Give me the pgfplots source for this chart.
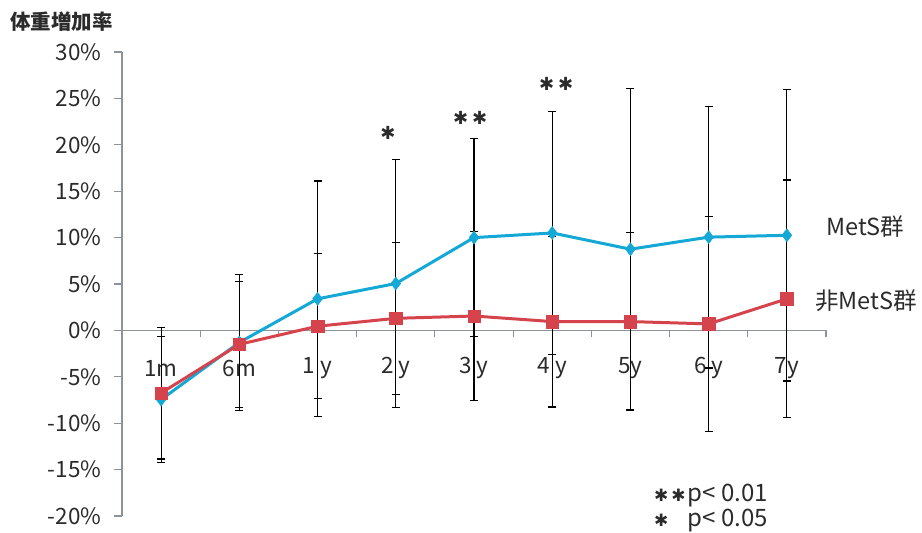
\documentclass[border=0pt]{standalone}
\usepackage{fontspec}
\setmainfont{Noto Sans CJK JP}
\newfontfamily\symfont{DejaVu Sans}
\usepackage{pgfplots}
\usepackage{pgfplotstable}
\pgfplotsset{compat=1.18}
\definecolor{metsblue}{HTML}{13A8D5}
\definecolor{nonred}{HTML}{D5444C}
\definecolor{axgray}{HTML}{8E9399}
\definecolor{txt}{HTML}{2B2B2B}
\pgfplotstableread{
x y e
0 -7.45 6.75
1 -1.3 7.3
2 3.4 12.7
3 5.05 13.4
4 10.0 10.7
5 10.5 13.1
6 8.75 17.3
7 10.05 14.1
8 10.25 15.7
}\mets
\pgfplotstableread{
x y e
0 -6.75 7.1
1 -1.5 6.8
2 0.45 7.8
3 1.3 8.2
4 1.55 9.1
5 0.95 9.2
6 0.95 9.6
7 0.7 11.6
8 3.4 12.8
}\nonmets
\newcommand\sigast{{\symfont ✱}}
\begin{document}
\begin{tikzpicture}
\useasboundingbox (0,0) rectangle (922pt,533pt);
\node[anchor=west, inner sep=0, font=\fontsize{20.5}{22}\selectfont\bfseries, txt] at (10pt,511pt) {体重増加率};
\begin{axis}[
  at={(122pt,17pt)}, anchor=south west,
  width=704pt, height=464pt, scale only axis,
  xmin=-0.5, xmax=8.5, ymin=-20, ymax=30,
  clip=false,
  axis x line=middle, axis y line=left,
  x axis line style={-, axgray, line width=1.5pt},
  y axis line style={-, axgray, line width=1.5pt},
  hide obscured x ticks=false, hide obscured y ticks=false,
  xtick={0,...,8},
  xticklabels={1m,6m,1 y,2 y,3 y,4 y,5y,6 y,7y},
  major x tick style={draw=none},
  minor xtick={0.5,1.5,...,8.5},
  minor x tick style={axgray, line width=1.2pt},
  minor tick length=7pt,
  tick align=outside,
  ytick={-20,-15,...,30},
  y tick style={axgray, line width=1.2pt},
  major tick length=8pt,
  yticklabel={\pgfmathprintnumber{\tick}\%},
  /pgf/number format/assume math mode=true,
  ticklabel style={font=\fontsize{22.5}{24}\selectfont, txt},
  yticklabel style={xshift=-9pt},
  xticklabel style={anchor=center, yshift=-30pt},
]
\addplot[black, only marks, mark=*, mark size=0pt, forget plot,
  error bars/.cd, y dir=both, y explicit, error mark=|,
  error bar style={black, solid, line width=1.2pt},
  error mark options={black, solid, line width=1.2pt, mark size=4pt}]
  table[x=x, y=y, y error=e]{\mets};
\addplot[black, only marks, mark=*, mark size=0pt, forget plot,
  error bars/.cd, y dir=both, y explicit, error mark=|,
  error bar style={black, solid, line width=1.2pt},
  error mark options={black, solid, line width=1.2pt, mark size=4pt}]
  table[x=x, y=y, y error=e]{\nonmets};
\addplot[metsblue, line width=3pt, mark=diamond*, mark size=6.5pt,
  mark options={solid, fill=metsblue, draw=metsblue, line width=0.5pt}]
  table[x=x, y=y]{\mets};
\addplot[nonred, line width=3pt, mark=square*, mark size=6.2pt,
  mark options={solid, fill=nonred, draw=nonred, line width=0.5pt}]
  table[x=x, y=y]{\nonmets};
\node[font=\fontsize{18}{20}\selectfont, txt] at (axis cs:2.9,21.3) {\sigast};
\node[font=\fontsize{18}{20}\selectfont, txt] at (axis cs:3.95,22.9) {\sigast\hspace{4pt}\sigast};
\node[font=\fontsize{18}{20}\selectfont, txt] at (axis cs:5.05,26.6) {\sigast\hspace{4pt}\sigast};
\node[anchor=west, inner sep=0, font=\fontsize{23.5}{26}\selectfont, txt] at (axis cs:8.5,11.2) {MetS群};
\node[anchor=west, inner sep=0, font=\fontsize{23.5}{26}\selectfont, txt] at (axis cs:8.36,3.24) {非MetS群};
\node[anchor=west, inner sep=0, font=\fontsize{17}{20}\selectfont, txt] at (axis cs:6.30,-17.8) {\sigast\hspace{3pt}\sigast};
\node[anchor=west, inner sep=0, font=\fontsize{17}{20}\selectfont, txt] at (axis cs:6.30,-20.5) {\sigast};
\node[anchor=west, inner sep=0, font=\fontsize{24}{26}\selectfont, txt] at (axis cs:6.73,-17.8) {p< 0.01};
\node[anchor=west, inner sep=0, font=\fontsize{24}{26}\selectfont, txt] at (axis cs:6.73,-20.5) {p< 0.05};
\end{axis}
\end{tikzpicture}
\end{document}
